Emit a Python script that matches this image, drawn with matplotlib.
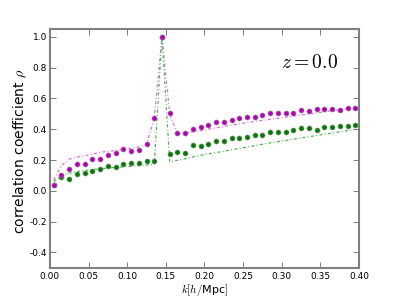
import matplotlib
matplotlib.use("Agg")
import matplotlib.pyplot as plt

plt.rcParams['mathtext.fontset'] = 'cm'
plt.rcParams['axes.unicode_minus'] = False

k = [0.005, 0.015, 0.025, 0.035, 0.045, 0.055, 0.065, 0.075, 0.085, 0.095,
     0.105, 0.115, 0.125, 0.135, 0.145, 0.155, 0.165, 0.175, 0.185, 0.195,
     0.205, 0.215, 0.225, 0.235, 0.245, 0.255, 0.265, 0.275, 0.285, 0.295,
     0.305, 0.315, 0.325, 0.335, 0.345, 0.355, 0.365, 0.375, 0.385, 0.395]

rho_magenta = [0.041, 0.100, 0.142, 0.172, 0.177, 0.205, 0.205, 0.235, 0.248, 0.271,
               0.259, 0.265, 0.304, 0.470, 1.000, 0.502, 0.377, 0.373, 0.403, 0.416,
               0.425, 0.444, 0.446, 0.461, 0.470, 0.480, 0.480, 0.489, 0.502, 0.506,
               0.504, 0.504, 0.524, 0.519, 0.528, 0.528, 0.528, 0.526, 0.537, 0.537]

rho_green = [0.040, 0.088, 0.080, 0.112, 0.114, 0.131, 0.140, 0.160, 0.155, 0.175,
             0.183, 0.181, 0.194, 0.192, 1.000, 0.239, 0.254, 0.248, 0.295, 0.291,
             0.304, 0.323, 0.325, 0.343, 0.343, 0.351, 0.362, 0.364, 0.379, 0.383,
             0.383, 0.392, 0.405, 0.409, 0.396, 0.416, 0.411, 0.420, 0.420, 0.427]

line_magenta = [0.070, 0.165, 0.205, 0.218, 0.228, 0.238, 0.250, 0.256, 0.262, 0.268,
                0.275, 0.285, 0.300, 0.470, 1.000, 0.500, 0.368, 0.375, 0.383, 0.390,
                0.400, 0.408, 0.418, 0.427, 0.435, 0.443, 0.450, 0.457, 0.464, 0.471,
                0.478, 0.485, 0.492, 0.499, 0.506, 0.513, 0.520, 0.527, 0.534, 0.541]

line_green = [0.060, 0.100, 0.115, 0.125, 0.132, 0.138, 0.143, 0.148, 0.152, 0.156,
              0.160, 0.163, 0.167, 0.172, 1.000, 0.188, 0.198, 0.208, 0.220, 0.230,
              0.240, 0.248, 0.257, 0.266, 0.275, 0.284, 0.293, 0.302, 0.311, 0.319,
              0.327, 0.335, 0.343, 0.351, 0.359, 0.367, 0.375, 0.383, 0.391, 0.399]

xticks = [0.00, 0.05, 0.10, 0.15, 0.20, 0.25, 0.30, 0.35, 0.40]
yticks = [-0.4, -0.2, 0.0, 0.2, 0.4, 0.6, 0.8, 1.0]

fig = plt.figure(figsize=(3.99, 2.99), dpi=100)
ax = fig.add_axes([0.125, 0.104, 0.775, 0.799])

ax.plot(k, line_magenta, color='#e070e0', lw=0.9, dashes=[2.5, 1.8, 0.8, 1.8])
ax.plot(k, line_green, color='#50b850', lw=0.9, dashes=[2.5, 1.8, 0.8, 1.8])
ax.plot(k, rho_green, 'o', color='#007a00', ms=3.7, mec='0.6', mew=0.4, linestyle='none')
ax.plot(k, rho_magenta, 'o', color='#b400b4', ms=3.7, mec='0.6', mew=0.4, linestyle='none')

ax.set_xlim(0.0, 0.4)
ax.set_ylim(-0.5, 1.05)
ax.set_xticks(xticks)
ax.set_xticklabels(['%.2f' % t for t in xticks])
ax.set_yticks(yticks)
ax.set_yticklabels(['%.1f' % t for t in yticks])
ax.tick_params(direction='in', top=True, right=True, labelsize=6.5, length=4,
               width=0.6, color='0.4')
ax.tick_params(axis='y', pad=2)
ax.tick_params(axis='x', pad=3)
for s in ax.spines.values():
    s.set_color('0.5')
    s.set_linewidth(1.5)

ax.set_xlabel(r'$k[h/$Mpc$]$', fontsize=8, labelpad=1)
ax.set_ylabel(r'correlation coefficient $\rho$', fontsize=10)
ax.yaxis.set_label_coords(-0.068, 0.49)
ax.text(0.932, 0.859, r'$z=0.0$', transform=ax.transAxes, fontsize=14,
        ha='right', va='center')

fig.savefig('out.png', dpi=100)
